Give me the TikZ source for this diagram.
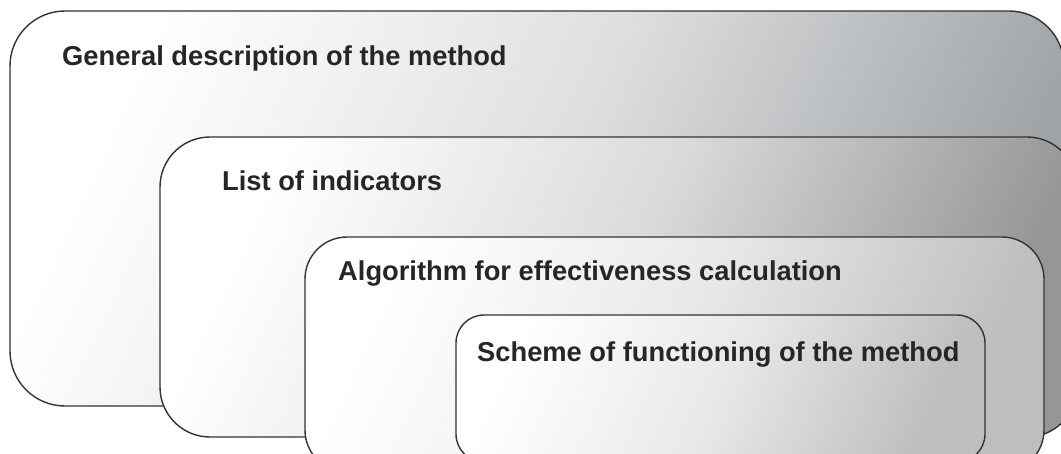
\documentclass[tikz,border=0pt]{standalone}
\usepackage{fontspec}
\setmainfont{Liberation Sans}
\definecolor{gA}{RGB}{160,164,167}
\definecolor{gB}{RGB}{150,150,150}
\definecolor{gC}{RGB}{190,190,190}
\definecolor{gD}{RGB}{190,190,190}
\begin{document}
\begin{tikzpicture}[x=1pt,y=-1pt,
  panel/.style={draw=black!80, line width=1.4pt, top color=white, bottom color=#1, middle color=#1!35!white, shading angle=65},
  lbl/.style={anchor=base west, inner sep=0pt, font=\fontsize{27.3}{30}\selectfont\bfseries, text=black!85}]
\useasboundingbox (0,0) rectangle (1061,453);
\clip (0,0) rectangle (1061,453);
\fill[white] (0,0) rectangle (1061,453);
\path[panel=gA, rounded corners=55pt] (10,11) rectangle (1064,406);
\path[panel=gB, rounded corners=50pt] (160,137) rectangle (1077,437);
\path[panel=gC, rounded corners=42pt] (305,237) rectangle (1044,472);
\path[panel=gD, rounded corners=28pt] (456,315) rectangle (985,462);
\node[lbl] (t1) at (62,65) {General description of the method};
\node[lbl] (t2) at (222,190) {List of indicators};
\node[lbl] (t3) at (338,280) {Algorithm for effectiveness calculation};
\node[lbl] (t4) at (477,361) {Scheme of functioning of the method};
\end{tikzpicture}
\end{document}
